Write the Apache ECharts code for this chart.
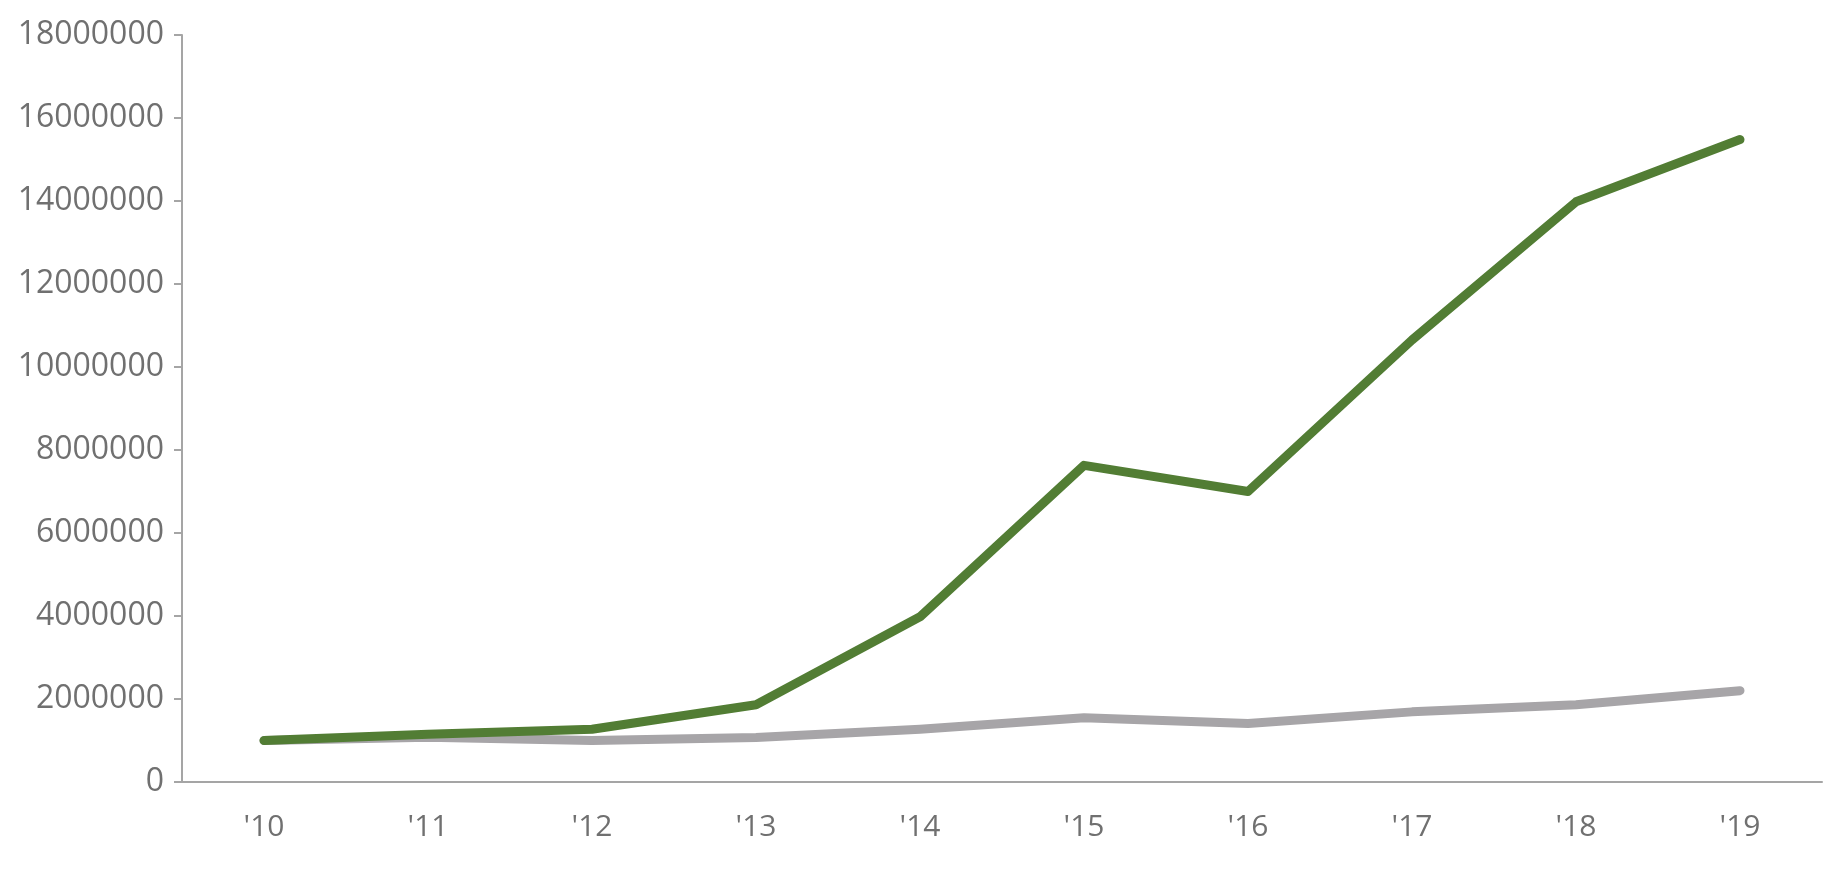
<!DOCTYPE html>
<html><head><meta charset="utf-8">
<script src="https://cdn.jsdelivr.net/npm/echarts@6/dist/echarts.min.js"></script>
<style>html,body{margin:0;padding:0;background:#fff}#c{width:1838px;height:874px}</style>
</head><body><div id="c"></div>
<script>
var categories = ["'10","'11","'12","'13","'14","'15","'16","'17","'18","'19"];
var greenSeries = [1000000,1150000,1270000,1860000,3980000,7630000,7000000,10650000,13980000,15480000];
var graySeries = [1000000,1080000,1000000,1070000,1270000,1550000,1410000,1690000,1860000,2200000];
var yTicks = {min:0, max:18000000, interval:2000000};

var chart = echarts.init(document.getElementById('c'));
chart.setOption({
  animation:false,
  backgroundColor:'#ffffff',
  grid:{left:182, right:16, top:35, bottom:92, containLabel:false},
  xAxis:{type:'category', data:categories, boundaryGap:true,
    axisLine:{lineStyle:{color:'#a5a5a5', width:2}},
    axisTick:{show:false},
    axisLabel:{color:'#707070', fontSize:30, fontFamily:'Open Sans', margin:30}},
  yAxis:{type:'value', min:yTicks.min, max:yTicks.max, interval:yTicks.interval,
    splitLine:{show:false},
    axisLine:{show:true, lineStyle:{color:'#a5a5a5', width:2}},
    axisTick:{show:true, length:8, lineStyle:{color:'#a5a5a5', width:2}},
    axisLabel:{color:'#707070', fontSize:32, fontFamily:'Open Sans', margin:18,
      formatter:function(v){return String(v);}}},
  series:[
    {type:'line', data:graySeries, symbol:'none', z:2,
      lineStyle:{color:'#a7a5a8', width:9, cap:'round', join:'round'}},
    {type:'line', data:greenSeries, symbol:'none', z:3,
      lineStyle:{color:'#527d34', width:9, cap:'round', join:'round'}}
  ]
});
</script></body></html>
